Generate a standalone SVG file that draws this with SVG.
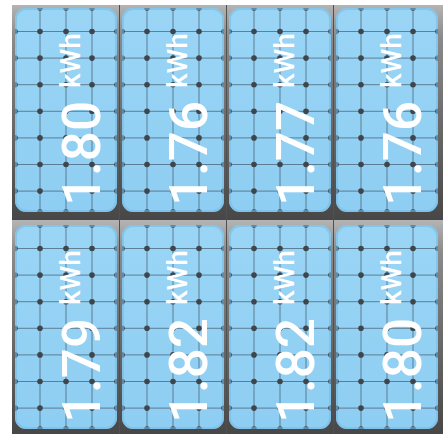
<svg xmlns="http://www.w3.org/2000/svg" width="443" height="434" viewBox="0 0 443 434">
<defs>
<linearGradient id="cellg" x1="0" y1="0" x2="0" y2="1">
<stop offset="0" stop-color="#b4b4b4"/>
<stop offset="0.15" stop-color="#8a8a8a"/>
<stop offset="1" stop-color="#474747"/>
</linearGradient>
<linearGradient id="blueg" x1="0" y1="0" x2="0" y2="1">
<stop offset="0" stop-color="#9ad5f6"/>
<stop offset="1" stop-color="#8ecef2"/>
</linearGradient>
<clipPath id="pclip"><rect x="0" y="0" width="102" height="204" rx="11"/></clipPath>
<g id="panel">
<rect x="0" y="0" width="102" height="204" rx="11" fill="url(#blueg)"/>
<g clip-path="url(#pclip)">
<g class="grid">
<path d="M25 0V204M51 0V204M77 0V204M0 23.5H102M0 50.1H102M0 76.7H102M0 103.3H102M0 129.9H102M0 156.5H102M0 183.1H102"/>
</g>
<g class="dots">
<circle cx="25" cy="0" r="2.8"/><circle cx="51" cy="0" r="2.8"/><circle cx="77" cy="0" r="2.8"/>
<circle cx="25" cy="204" r="2.8"/><circle cx="51" cy="204" r="2.8"/><circle cx="77" cy="204" r="2.8"/>
<circle cx="0" cy="23.5" r="2.8"/><circle cx="25" cy="23.5" r="2.8"/><circle cx="51" cy="23.5" r="2.8"/><circle cx="77" cy="23.5" r="2.8"/><circle cx="102" cy="23.5" r="2.8"/>
<circle cx="0" cy="50.1" r="2.8"/><circle cx="25" cy="50.1" r="2.8"/><circle cx="51" cy="50.1" r="2.8"/><circle cx="77" cy="50.1" r="2.8"/><circle cx="102" cy="50.1" r="2.8"/>
<circle cx="0" cy="76.7" r="2.8"/><circle cx="25" cy="76.7" r="2.8"/><circle cx="51" cy="76.7" r="2.8"/><circle cx="77" cy="76.7" r="2.8"/><circle cx="102" cy="76.7" r="2.8"/>
<circle cx="0" cy="103.3" r="2.8"/><circle cx="25" cy="103.3" r="2.8"/><circle cx="51" cy="103.3" r="2.8"/><circle cx="77" cy="103.3" r="2.8"/><circle cx="102" cy="103.3" r="2.8"/>
<circle cx="0" cy="129.9" r="2.8"/><circle cx="25" cy="129.9" r="2.8"/><circle cx="51" cy="129.9" r="2.8"/><circle cx="77" cy="129.9" r="2.8"/><circle cx="102" cy="129.9" r="2.8"/>
<circle cx="0" cy="156.5" r="2.8"/><circle cx="25" cy="156.5" r="2.8"/><circle cx="51" cy="156.5" r="2.8"/><circle cx="77" cy="156.5" r="2.8"/><circle cx="102" cy="156.5" r="2.8"/>
<circle cx="0" cy="183.1" r="2.8"/><circle cx="25" cy="183.1" r="2.8"/><circle cx="51" cy="183.1" r="2.8"/><circle cx="77" cy="183.1" r="2.8"/><circle cx="102" cy="183.1" r="2.8"/>
</g>
</g>
<rect x="1" y="1" width="100" height="202" rx="10" fill="none" stroke="#76bbe2" stroke-width="2" opacity="0.6"/>
</g>
</defs>
<style>
.grid path{fill:none;stroke:#3f5260;stroke-width:1;opacity:0.65}
.dots circle{fill:#3e454b}
.num{font-family:Roboto,"Liberation Sans",sans-serif;font-size:53px;font-weight:500;fill:#ffffff}
.unit{font-family:Roboto,"Liberation Sans",sans-serif;font-size:28px;font-weight:500;fill:#ffffff}
.cell{fill:url(#cellg)}
</style>
<rect x="0" y="0" width="443" height="434" fill="#ffffff"/>
<g id="frame">
<rect x="12" y="5" width="431" height="429" fill="#505050"/>
<rect class="cell" x="12" y="5" width="107" height="215"/>
<rect class="cell" x="120" y="5" width="106" height="215"/>
<rect class="cell" x="227" y="5" width="106" height="215"/>
<rect class="cell" x="334" y="5" width="109" height="215"/>
<rect class="cell" x="12" y="220" width="107" height="214"/>
<rect class="cell" x="120" y="220" width="106" height="214"/>
<rect class="cell" x="227" y="220" width="106" height="214"/>
<rect class="cell" x="334" y="220" width="109" height="214"/>
</g>
<g id="p1" transform="translate(15,8)"><use href="#panel"/><text class="num" transform="translate(85,198) rotate(-90)">1.80</text><text class="unit" transform="translate(65,80) rotate(-90)">kWh</text></g>
<g id="p2" transform="translate(122,8)"><use href="#panel"/><text class="num" transform="translate(85,198) rotate(-90)">1.76</text><text class="unit" transform="translate(65,80) rotate(-90)">kWh</text></g>
<g id="p3" transform="translate(229,8)"><use href="#panel"/><text class="num" transform="translate(85,198) rotate(-90)">1.77</text><text class="unit" transform="translate(65,80) rotate(-90)">kWh</text></g>
<g id="p4" transform="translate(336,8)"><use href="#panel"/><text class="num" transform="translate(85,198) rotate(-90)">1.76</text><text class="unit" transform="translate(65,80) rotate(-90)">kWh</text></g>
<g id="p5" transform="translate(15,225)"><use href="#panel"/><text class="num" transform="translate(85,198) rotate(-90)">1.79</text><text class="unit" transform="translate(65,80) rotate(-90)">kWh</text></g>
<g id="p6" transform="translate(122,225)"><use href="#panel"/><text class="num" transform="translate(85,198) rotate(-90)">1.82</text><text class="unit" transform="translate(65,80) rotate(-90)">kWh</text></g>
<g id="p7" transform="translate(229,225)"><use href="#panel"/><text class="num" transform="translate(85,198) rotate(-90)">1.82</text><text class="unit" transform="translate(65,80) rotate(-90)">kWh</text></g>
<g id="p8" transform="translate(336,225)"><use href="#panel"/><text class="num" transform="translate(85,198) rotate(-90)">1.80</text><text class="unit" transform="translate(65,80) rotate(-90)">kWh</text></g>
<g id="connectors"/>
</svg>
